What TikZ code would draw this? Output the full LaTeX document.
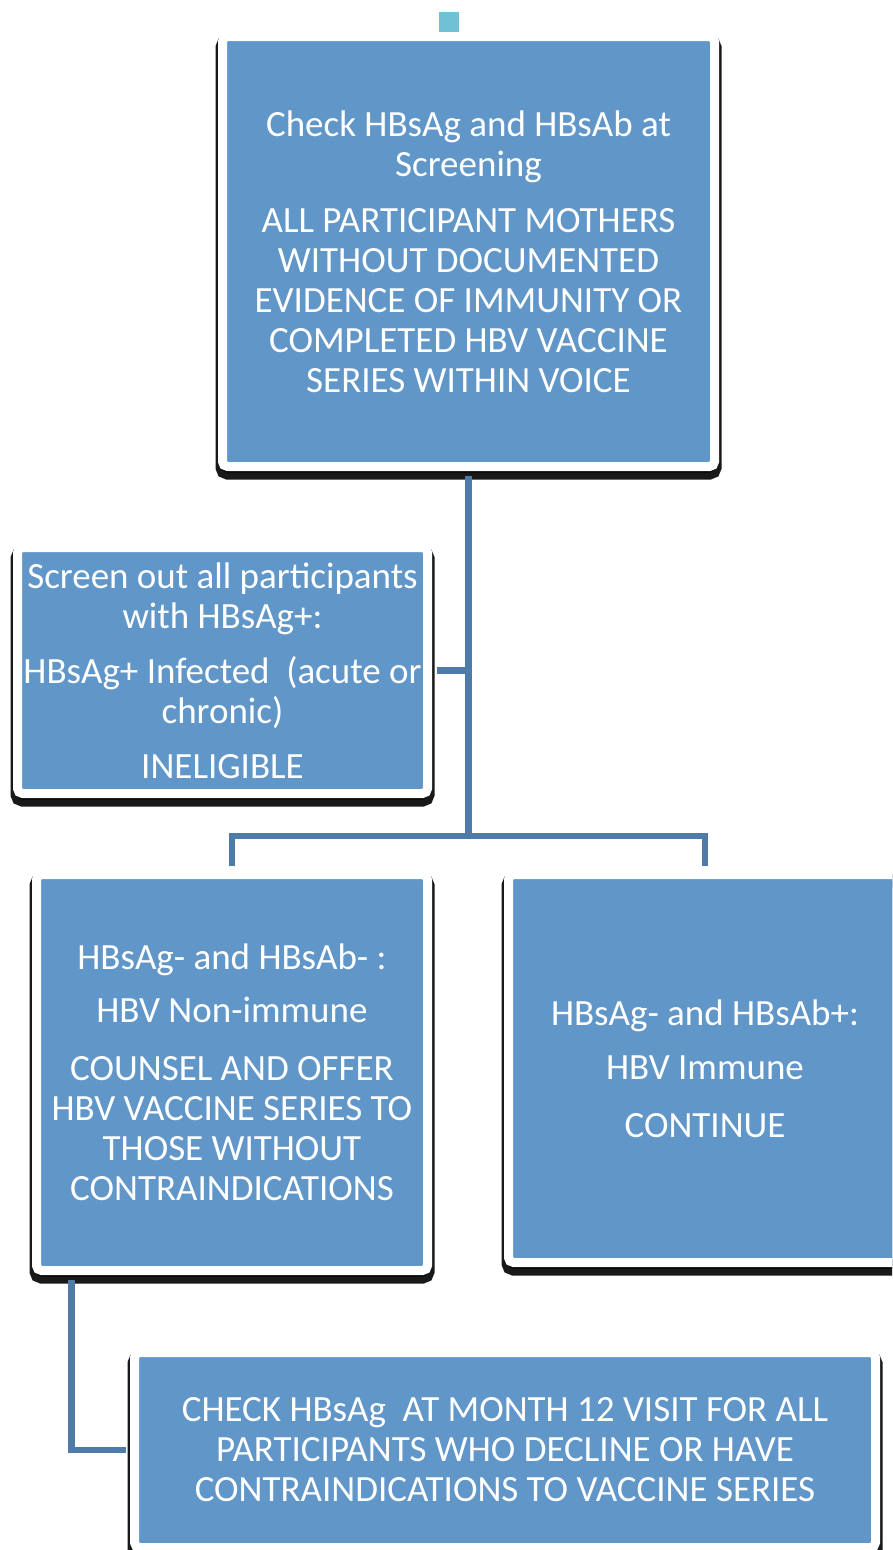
\documentclass[tikz,border=0pt]{standalone}
\usepackage{fontspec}
\setmainfont{Carlito}
\usetikzlibrary{shadows}
\definecolor{boxblue}{HTML}{6196C8}
\definecolor{linkblue}{HTML}{4F7BA9}
\definecolor{tabteal}{HTML}{70C1D5}
\tikzset{
  flowbox/.style={rectangle, fill=boxblue, draw=white, line width=9pt,
    rounded corners=5pt, inner sep=0pt, text=white, align=center,
    font=\fontsize{37}{40}\selectfont,
    drop shadow={shadow xshift=0pt, shadow yshift=-6pt, fill=black,
      draw=black, line width=14pt, opacity=0.9}},
  link/.style={draw=linkblue, line width=6.5pt, line join=miter}
}
\begin{document}
\begin{tikzpicture}[x=1pt,y=-1pt]
\useasboundingbox (0,0) rectangle (892,1550);
\clip (0,0) rectangle (892,1550);
\fill[white] (0,0) rectangle (892,1550);

\node[fill=tabteal, minimum width=20pt, minimum height=20pt, inner sep=0pt] (tab) at (449,22) {};

\node[flowbox, minimum width=492pt, minimum height=430pt] (top) at (468.5,251.5)
  {Check HBsAg and HBsAb at\\ Screening\\[16pt]
   ALL PARTICIPANT MOTHERS\\ WITHOUT DOCUMENTED\\ EVIDENCE OF IMMUNITY OR\\
   COMPLETED HBV VACCINE\\ SERIES WITHIN VOICE};

\node[flowbox, minimum width=410pt, minimum height=246pt] (out) at (222.5,670.5)
  {Screen out all participants\\ with HBsAg+:\\[15pt]
   HBsAg+ Infected\ \ (acute or\\ chronic)\\[15pt] INELIGIBLE};

\node[flowbox, minimum width=391pt, minimum height=396pt] (non) at (232,1072.5)
  {HBsAg- and HBsAb- :\\[13pt] HBV Non-immune\\[18pt]
   COUNSEL AND OFFER\\ HBV VACCINE SERIES TO\\ THOSE WITHOUT\\ CONTRAINDICATIONS};

\node[flowbox, minimum width=393pt, minimum height=388pt] (imm) at (705,1068.5)
  {HBsAg- and HBsAb+:\\[14pt] HBV Immune\\[18pt] CONTINUE};

\node[flowbox, minimum width=741pt, minimum height=195pt] (chk) at (505,1450)
  {CHECK HBsAg\ \ AT MONTH 12 VISIT FOR ALL\\ PARTICIPANTS WHO DECLINE OR HAVE\\
   CONTRAINDICATIONS TO VACCINE SERIES};

\coordinate (split) at (top.south |- 0,836);
\draw[link, shorten <=4.5pt] (top.south) -- (split);
\draw[link, shorten <=4.5pt] (out.east) -- (out.east -| top.south);
\draw[link, shorten >=4.5pt] (split) -| (non.north);
\draw[link, shorten >=4.5pt] (split) -| (imm.north);
\draw[link, shorten <=4.5pt, shorten >=4.5pt] ([xshift=39.5pt]non.south west) |- (chk.west);
\end{tikzpicture}
\end{document}
